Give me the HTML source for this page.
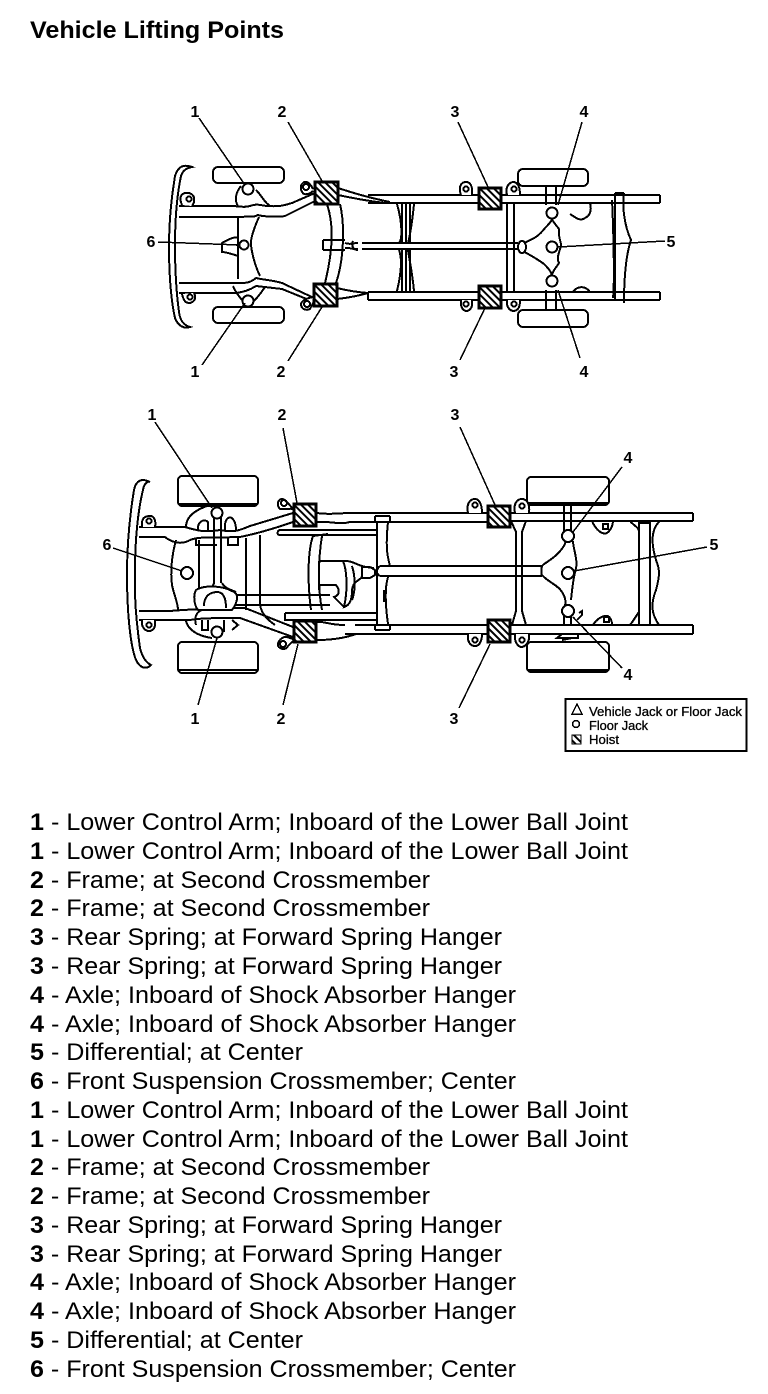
<!DOCTYPE html>
<html><head><meta charset="utf-8"><title>Vehicle Lifting Points</title>
<style>
html,body{margin:0;padding:0;background:#fff}
svg{display:block}
text{font-family:"Liberation Sans",sans-serif;fill:#000}
.l{font-size:24px}
.n{font-size:16px;font-weight:bold;text-anchor:middle}
.g{font-size:12.5px;stroke:#000;stroke-width:.3}
.d{shape-rendering:crispEdges}
.d path,.d line,.d circle,.d rect,.d ellipse{fill:none;stroke:#000;stroke-width:2}
.d .w{fill:#fff}
.d .t{stroke-width:1.5}
.d .h{stroke-width:3;fill:url(#hatch)}
</style></head><body>
<svg width="768" height="1394" viewBox="0 0 768 1394" xmlns="http://www.w3.org/2000/svg">
<defs>
<pattern id="hatch" width="5" height="5" patternUnits="userSpaceOnUse" patternTransform="rotate(-45)">
<rect width="5" height="5" fill="#fff"/><rect width="2" height="5" fill="#000"/>
</pattern>
</defs>
<text x="30" y="38" font-size="24" font-weight="bold" textLength="254" lengthAdjust="spacingAndGlyphs">Vehicle Lifting Points</text>

<g class="d">
<!-- TOP DIAGRAM -->
<rect x="213" y="167" width="71" height="16" rx="5"/>
<rect x="213" y="307" width="71" height="16" rx="5"/>
<rect x="518" y="169" width="70" height="17" rx="5"/>
<rect x="518" y="310" width="70" height="17" rx="5"/>
<path d="M192 167C184 164 178 166 175 176C171 200 169 225 169 245C169 275 171 300 175 318C178 326 184 329 190 327C183 325 180 320 179 312C176 290 175 265 175 245C175 220 177 195 181 176C183 170 187 168 192 167Z"/>
<!-- frame top -->
<path stroke-width="3" d="M179 206H232C238 206 244 208 250 206C258 203 262 206 268 206C280 207 285 205 292 203L315 193"/>
<path d="M179 217H240C250 216 252 218 258 215C264 217 280 217 285 216L315 201"/>
<path d="M179 283H240C246 283 250 283 256 278C264 280 272 280 282 283L314 298"/>
<path stroke-width="3" d="M179 293H236C244 292 250 290 256 286C264 287 274 288 282 289L314 302"/>
<path d="M238 206C234 200 236 192 241 186M256 190C262 196 264 202 270 206M233 286C236 293 240 298 244 302M265 287C261 293 257 298 253 302"/>
<path d="M238 218V279M238 238C234 236 228 240 222 243V252C226 252 232 254 238 256"/>
<path d="M259 217C254 228 250 240 251 245C252 255 256 268 260 276M239 245C236 246 236 244 236 244"/>
<!-- crossmember 2 -->
<path d="M327 204C334 225 333 250 325 283M340 204C345 225 344 260 336 283"/>
<path d="M323 240H345M323 250H345M323 240V250M345 243C350 245 352 243 358 243M345 248C350 247 352 250 358 249M353 241C351 245 353 250 358 250"/>
<path stroke-width="3" d="M362 243H518M362 249H518"/>
<path d="M338 188C350 192 370 198 390 202M338 195C352 198 368 201 385 203M337 288C345 290 355 292 368 293M337 299C346 298 358 296 368 293"/>
<path stroke-width="3" d="M368 195H478M368 203H478M368 292H478M368 300H478"/>
<path d="M368 292V300M660 195V203M660 292V300"/>
<path stroke-width="3" d="M502 195H660M502 203H660M502 292H660M502 300H660"/>
<!-- spring leafs -->
<path stroke-width="2.5" d="M397 204C403 225 402 240 399 243M402 204V243M406 204V243M410 204V243M414 204C412 225 409 240 408 243M397 291C402 270 402 258 399 250M402 250V291M406 250V291M410 250V291M414 291C412 270 409 258 408 250"/>
<!-- rear crossmember -->
<path d="M507 203V292M514 203V292"/>
<path d="M546 186V205M556 186V205M546 290V310M556 290V310"/>
<!-- axle -->
<path class="w" d="M521 245C528 240 536 240 545 228C549 224 551 222 552 219C553 222 556 225 559 229C558 238 562 244 561 246C560 250 556 258 559 263C556 268 553 270 552 275C550 270 548 268 544 264C536 258 528 254 521 250Z"/>
<ellipse class="w" cx="522" cy="247" rx="4" ry="6"/>
<!-- rear right -->
<path d="M615 193V300M624 193C622 205 624 225 631 240C626 255 624 280 624 303M615 193H624M612 200C613 220 615 280 613 298"/>
<path d="M566 203H590C592 210 590 216 585 218C580 222 575 217 570 214"/>
<path d="M573 292C577 286 585 285 590 292"/>
<!-- mounts -->
<g class="t">
<path class="w" d="M182 205C178 196 182 192 189 193C196 195 195 202 192 206"/><circle cx="189" cy="199" r="2.5"/>
<path class="w" d="M182 294C184 302 186 303 190 303C196 301 196 297 194 293"/><circle cx="190" cy="297" r="2.5"/>
<path class="w" d="M313 189C310 183 306 180 303 183C299 186 301 192 304 194C307 195 311 193 313 191"/><circle cx="306" cy="187" r="3"/>
<path class="w" d="M313 297C308 298 302 300 301 304C301 309 306 311 310 309L313 303"/><circle cx="307" cy="304" r="3"/>
<path class="w" d="M461 195C458 187 461 182 466 182C471 182 473 188 472 195"/><circle cx="466" cy="189" r="2.5"/>
<path class="w" d="M461 300C460 307 463 311 467 311C471 310 473 306 472 300"/><circle cx="466" cy="304" r="2.5"/>
<path class="w" d="M507 195C505 187 509 182 514 182C519 183 520 189 520 195"/><circle cx="514" cy="189" r="2.5"/>
<path class="w" d="M507 300C506 307 510 311 514 311C519 310 520 306 520 300"/><circle cx="514" cy="304" r="2.5"/>
</g>
<circle class="w" cx="248" cy="189" r="5.5"/>
<circle class="w" cx="248" cy="301" r="5.5"/>
<circle class="w" cx="244" cy="245" r="4.5"/>
<circle class="w" cx="552" cy="213" r="5.5"/>
<circle class="w" cx="552" cy="247" r="5.5"/>
<circle class="w" cx="552" cy="281" r="5.5"/>
<rect class="h" x="315" y="182" width="23" height="22"/>
<rect class="h" x="314" y="284" width="23" height="22"/>
<rect class="h" x="479" y="188" width="22" height="21"/>
<rect class="h" x="479" y="286" width="22" height="22"/>
<path class="t" d="M199 118L245 185M288 122L322 181M202 365L245 303M288 361L322 307M158 242L240 245M458 122L488 187M460 360L485 308M582 122L558 205M580 358L558 290M558 247L665 241"/>

<!-- BOTTOM DIAGRAM -->
<rect x="178" y="476" width="80" height="30" rx="4"/>
<path stroke-width="3" d="M178 504H258"/>
<rect x="178" y="642" width="80" height="31" rx="4"/>
<path stroke-width="3" d="M178 670H258"/>
<rect x="527" y="477" width="82" height="28" rx="4"/>
<path stroke-width="3" d="M527 503H609"/>
<rect x="527" y="642" width="82" height="30" rx="4"/>
<path stroke-width="3" d="M527 670H609"/>
<path d="M150 482C142 478 136 480 134 490C129 520 127 550 127 575C127 610 130 645 136 660C140 668 146 670 151 665C145 662 142 656 140 648C136 620 134 595 135 570C135 540 138 510 143 490C144 483 148 481 150 482Z"/>
<!-- front frame -->
<path stroke-width="3" d="M139 527H185C195 530 205 533 220 530C235 533 240 530 250 526L293 513"/>
<path d="M139 537H165C170 541 180 546 190 540C200 536 215 538 240 537C250 535 270 530 293 522"/>
<path d="M139 611H170C180 610 200 609 230 608H245L293 627"/>
<path stroke-width="3" d="M139 620H190C200 618 220 618 240 618L293 637"/>
<path d="M176 540C172 555 170 570 172 585C174 595 178 603 178 610"/>
<path d="M199 540V590M202 610C196 612 194 618 196 625"/>
<path d="M246 538V610M260 535V605C262 615 268 620 275 625"/>
<!-- front axle -->
<path stroke-width="3" d="M214 517V583"/>
<path stroke-width="2" d="M221 517V583"/>
<path d="M214 583C213 587 210 589 206 591M222 583C224 587 228 589 236 592"/>
<path d="M207 506C190 512 186 520 186 527M198 530C197 522 204 518 208 522V530M225 530C224 520 228 516 232 518C236 522 236 528 236 530"/>
<path class="w" d="M196 590C204 585 222 585 234 592C240 595 236 605 232 610H198C194 605 193 595 196 590Z"/>
<path d="M204 606C204 596 210 592 218 592C226 593 226 604 226 608"/>
<path stroke-width="3" d="M236 595H330M236 605H330"/>
<path d="M186 621C188 630 198 636 212 638M202 620V630H208V620M224 620V632M232 620L238 625L232 630"/>
<path d="M196 538V545H217M228 538V545H238V538"/>
<!-- rear inner rails -->
<path stroke-width="3" d="M279 530H378M285 613H378"/>
<path d="M279 530C277 532 277 534 279 535H378M285 613V620H378"/>
<path d="M313 536C308 550 307 580 311 610M322 536C318 560 318 590 322 610M313 536L328 534"/>
<!-- differential/trans -->
<path d="M320 561H343C352 560 358 566 366 567L374 568M319 561V590M320 585H336C340 590 340 595 334 597L344 607M343 561C347 570 348 590 344 607C350 605 352 600 352 590C353 580 362 580 362 576V567M352 566C355 575 356 590 352 600"/>
<path d="M361 567H370L375 570V575L370 578H361"/>
<path stroke-width="3" d="M380 566H542M380 576H542"/>
<path d="M380 566C376 569 376 574 380 576"/>
<!-- first rear crossmember -->
<path stroke-width="3" d="M377 522V624M388 522C385 550 388 558 390 566M388 577C384 590 386 610 388 624"/>
<path d="M375 516H390M375 630H390M375 516V522M390 516V522M375 630V624M390 630V624M384 590V602"/>
<path stroke-width="3" d="M317 513C330 515 340 513 350 513H487M317 522C330 521 340 525 350 522H487"/>
<path stroke-width="3" d="M355 625H487M345 634H487"/>
<path d="M317 622C325 621 328 625 345 625M317 640C330 640 345 638 356 634"/>
<path stroke-width="3" d="M511 513H693M511 521H693M511 625H693M511 634H693"/>
<path d="M693 513V521M693 625V634"/>
<!-- x member 3 -->
<path d="M511 521L516 532V611L512 625M526 521L522 532V611L526 625"/>
<path d="M516 521H524"/>
<!-- rear axle -->
<path d="M564 505V532M571 505V532M564 615V625M571 615V625"/>
<path d="M542 566C544 563 553 560 561 550C565 545 566 542 565 541M573 541C573 548 578 560 576 568C574 575 572 590 571 600M542 575C548 582 558 585 562 592C565 597 566 600 565 606"/>
<path d="M542 566C541 570 541 573 542 576"/>
<!-- rear right -->
<path stroke-width="3" d="M639 522V624M650 522V624"/>
<path d="M630 521C634 526 639 527 639 532M660 521C652 528 650 540 656 560C660 570 660 575 656 590C650 605 652 615 659 625M630 625C634 620 636 616 639 612M640 523H649"/>
<path d="M592 521C596 530 602 535 607 533C611 530 613 525 613 521"/>
<path d="M593 625C596 620 602 615 608 616C611 618 612 622 612 625"/>
<path d="M560 638H578V634M560 638H557L562 634M562 640L572 638"/>
<path d="M579 613L582 611V615L577 620"/>
<g class="t">
<rect class="w" x="603" y="524" width="5" height="5"/>
<rect class="w" x="604" y="617" width="5" height="5"/>
<path class="w" d="M142 527C141 519 144 516 150 516C155 516 156 522 155 527"/><circle cx="149" cy="521" r="2.5"/>
<path class="w" d="M142 620C141 627 145 631 149 631C154 631 156 626 155 620"/><circle cx="149" cy="625" r="2.5"/>
<path class="w" d="M293 509C288 503 284 498 281 499C277 501 277 506 280 509C285 510 290 508 293 509"/><circle cx="284" cy="503" r="3"/>
<path class="w" d="M293 639L287 637C282 636 277 642 278 646C281 650 286 650 288 646L293 641"/><circle cx="283" cy="644" r="3"/>
<path class="w" d="M468 513C466 504 470 499 475 499C480 499 482 506 482 513"/><circle cx="475" cy="505" r="2.5"/>
<path class="w" d="M468 634C467 641 470 646 475 646C480 646 482 640 482 634"/><circle cx="475" cy="640" r="2.5"/>
<path class="w" d="M515 513C513 504 517 499 522 499C528 499 530 506 529 513"/><circle cx="522" cy="506" r="2.5"/>
<path class="w" d="M515 634C514 642 518 647 522 647C527 646 530 640 529 634"/><circle cx="522" cy="640" r="2.5"/>
</g>
<circle class="w" cx="217" cy="513" r="5.5"/>
<circle class="w" cx="217" cy="632" r="5.5"/>
<circle class="w" cx="187" cy="573" r="6"/>
<circle class="w" cx="568" cy="536" r="6"/>
<circle class="w" cx="568" cy="573" r="6"/>
<circle class="w" cx="568" cy="611" r="6"/>
<rect class="h" x="294" y="504" width="22" height="22"/>
<rect class="h" x="294" y="621" width="22" height="21"/>
<rect class="h" x="488" y="506" width="22" height="21"/>
<rect class="h" x="488" y="620" width="22" height="22"/>
<path class="t" d="M155 422L212 508M283 428L297 503M113 548L182 571M198 705L217 638M283 705L298 644M460 427L495 505M459 708L490 644M622 467L573 532M707 547L574 571M622 668L573 617"/>
<!-- legend -->
<rect x="565.5" y="699" width="181" height="52"/>
<path class="t" d="M577 704L582 714H572Z"/>
<circle class="t" cx="576" cy="724" r="3.5"/>
<rect x="572" y="735" width="9" height="9" style="fill:url(#hatch);stroke-width:1"/>
</g>

<g lengthAdjust="spacingAndGlyphs">
<text class="g" x="589" y="716" textLength="153" lengthAdjust="spacingAndGlyphs">Vehicle Jack or Floor Jack</text>
<text class="g" x="589" y="730" textLength="59" lengthAdjust="spacingAndGlyphs">Floor Jack</text>
<text class="g" x="589" y="744" textLength="30" lengthAdjust="spacingAndGlyphs">Hoist</text>
</g>

<g>
<text class="n" x="195" y="117">1</text><text class="n" x="282" y="117">2</text><text class="n" x="455" y="117">3</text><text class="n" x="584" y="117">4</text>
<text class="n" x="151" y="247">6</text><text class="n" x="671" y="247">5</text>
<text class="n" x="195" y="377">1</text><text class="n" x="281" y="377">2</text><text class="n" x="454" y="377">3</text><text class="n" x="584" y="377">4</text>
<text class="n" x="152" y="420">1</text><text class="n" x="282" y="420">2</text><text class="n" x="455" y="420">3</text>
<text class="n" x="628" y="463">4</text><text class="n" x="714" y="550">5</text><text class="n" x="107" y="550">6</text>
<text class="n" x="195" y="724">1</text><text class="n" x="281" y="724">2</text><text class="n" x="454" y="724">3</text><text class="n" x="628" y="680">4</text>
</g>

<g class="l">
<text x="30" y="830" textLength="598" lengthAdjust="spacingAndGlyphs"><tspan font-weight="bold">1</tspan> - Lower Control Arm; Inboard of the Lower Ball Joint</text>
<text x="30" y="859" textLength="598" lengthAdjust="spacingAndGlyphs"><tspan font-weight="bold">1</tspan> - Lower Control Arm; Inboard of the Lower Ball Joint</text>
<text x="30" y="888" textLength="400" lengthAdjust="spacingAndGlyphs"><tspan font-weight="bold">2</tspan> - Frame; at Second Crossmember</text>
<text x="30" y="916" textLength="400" lengthAdjust="spacingAndGlyphs"><tspan font-weight="bold">2</tspan> - Frame; at Second Crossmember</text>
<text x="30" y="945" textLength="472" lengthAdjust="spacingAndGlyphs"><tspan font-weight="bold">3</tspan> - Rear Spring; at Forward Spring Hanger</text>
<text x="30" y="974" textLength="472" lengthAdjust="spacingAndGlyphs"><tspan font-weight="bold">3</tspan> - Rear Spring; at Forward Spring Hanger</text>
<text x="30" y="1003" textLength="486" lengthAdjust="spacingAndGlyphs"><tspan font-weight="bold">4</tspan> - Axle; Inboard of Shock Absorber Hanger</text>
<text x="30" y="1032" textLength="486" lengthAdjust="spacingAndGlyphs"><tspan font-weight="bold">4</tspan> - Axle; Inboard of Shock Absorber Hanger</text>
<text x="30" y="1060" textLength="273" lengthAdjust="spacingAndGlyphs"><tspan font-weight="bold">5</tspan> - Differential; at Center</text>
<text x="30" y="1089" textLength="486" lengthAdjust="spacingAndGlyphs"><tspan font-weight="bold">6</tspan> - Front Suspension Crossmember; Center</text>
<text x="30" y="1118" textLength="598" lengthAdjust="spacingAndGlyphs"><tspan font-weight="bold">1</tspan> - Lower Control Arm; Inboard of the Lower Ball Joint</text>
<text x="30" y="1147" textLength="598" lengthAdjust="spacingAndGlyphs"><tspan font-weight="bold">1</tspan> - Lower Control Arm; Inboard of the Lower Ball Joint</text>
<text x="30" y="1175" textLength="400" lengthAdjust="spacingAndGlyphs"><tspan font-weight="bold">2</tspan> - Frame; at Second Crossmember</text>
<text x="30" y="1204" textLength="400" lengthAdjust="spacingAndGlyphs"><tspan font-weight="bold">2</tspan> - Frame; at Second Crossmember</text>
<text x="30" y="1233" textLength="472" lengthAdjust="spacingAndGlyphs"><tspan font-weight="bold">3</tspan> - Rear Spring; at Forward Spring Hanger</text>
<text x="30" y="1262" textLength="472" lengthAdjust="spacingAndGlyphs"><tspan font-weight="bold">3</tspan> - Rear Spring; at Forward Spring Hanger</text>
<text x="30" y="1290" textLength="486" lengthAdjust="spacingAndGlyphs"><tspan font-weight="bold">4</tspan> - Axle; Inboard of Shock Absorber Hanger</text>
<text x="30" y="1319" textLength="486" lengthAdjust="spacingAndGlyphs"><tspan font-weight="bold">4</tspan> - Axle; Inboard of Shock Absorber Hanger</text>
<text x="30" y="1348" textLength="273" lengthAdjust="spacingAndGlyphs"><tspan font-weight="bold">5</tspan> - Differential; at Center</text>
<text x="30" y="1377" textLength="486" lengthAdjust="spacingAndGlyphs"><tspan font-weight="bold">6</tspan> - Front Suspension Crossmember; Center</text>
</g>
</svg>
</body></html>
